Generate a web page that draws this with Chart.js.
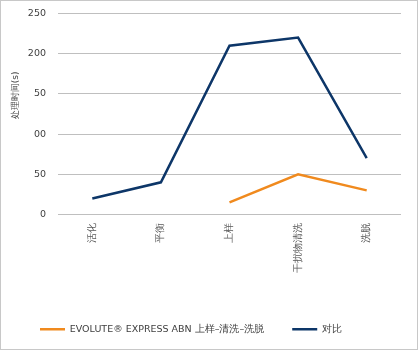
<!DOCTYPE html>
<html lang="zh">
    <head>
        <meta charset="UTF-8">
        <title>处理时间</title>
        <script src="https://cdn.jsdelivr.net/npm/chart.js@4/dist/chart.umd.min.js"></script>
        <style>
            html, body {
                margin: 0;
                padding: 0;
                background: #ffffff;
            }
            .frame {
                position: relative;
                width: 418px;
                height: 350px;
            }
            .frame canvas {
                position: absolute;
                left: 0;
                top: 0;
            }
            .border {
                position: absolute;
                left: 0;
                top: 0;
                width: 416px;
                height: 348px;
                border: 1px solid #c8c8c8;
                pointer-events: none;
            }
        </style>
    </head>
    <body>
        <div class="frame">
            <canvas id="timeChart" width="418" height="350"></canvas>
            <div class="border"></div>
        </div>
        <script>
            // categories along the x axis
            const steps = ["活化", "平衡", "上样", "干扰物清洗", "洗脱"];
            // series values (seconds)
            const evoluteTimes = [null, null, 15, 50, 30];
            const controlTimes = [20, 40, 210, 220, 70];
            // y tick values and the labels as they appear in the picture
            const yTickValues = [0, 50, 100, 150, 200, 250];
            const yTickLabels = ["0", "50", "00", "50", "200", "250"];

            const seriesNames = ["EVOLUTE® EXPRESS ABN 上样–清洗–洗脱", "对比"];
            const seriesColors = ["#f08a1e", "#0d3668"];

            const fontFamily = "'DejaVu Sans', Verdana, sans-serif";

            const ctx = document.getElementById("timeChart").getContext("2d");
            const chart = new Chart(ctx, {
                type: "line",
                data: {
                    labels: steps,
                    datasets: [
                        {
                            label: seriesNames[0],
                            data: evoluteTimes,
                            borderColor: seriesColors[0],
                            backgroundColor: seriesColors[0],
                            borderWidth: 2.5,
                            pointRadius: 0,
                            tension: 0,
                            spanGaps: false
                        },
                        {
                            label: seriesNames[1],
                            data: controlTimes,
                            borderColor: seriesColors[1],
                            backgroundColor: seriesColors[1],
                            borderWidth: 2.5,
                            pointRadius: 0,
                            tension: 0
                        }
                    ]
                },
                options: {
                    responsive: false,
                    animation: false,
                    layout: {
                        padding: { left: 12, right: 17, top: 13.5, bottom: 6 }
                    },
                    plugins: {
                        tooltip: { enabled: false },
                        legend: {
                            position: "bottom",
                            align: "start",
                            labels: {
                                usePointStyle: true,
                                pointStyle: "line",
                                pointStyleWidth: 25,
                                padding: 28,
                                color: "#404040",
                                font: { family: fontFamily, size: 9.5 }
                            }
                        }
                    },
                    scales: {
                        x: {
                            offset: true,
                            grid: { display: false, drawTicks: false },
                            border: { display: false },
                            ticks: {
                                minRotation: 90,
                                maxRotation: 90,
                                padding: 8,
                                color: "#595959",
                                font: { family: fontFamily, size: 9.5 }
                            },
                            afterFit: function (scale) {
                                scale.height = 82;
                            }
                        },
                        y: {
                            min: 0,
                            max: 250,
                            afterBuildTicks: function (scale) {
                                scale.ticks = yTickValues.map(function (v) { return { value: v }; });
                            },
                            grid: {
                                color: "#bfbfbf",
                                lineWidth: 1,
                                drawTicks: true,
                                tickLength: 10,
                                tickColor: "rgba(0,0,0,0)"
                            },
                            border: { display: false },
                            ticks: {
                                padding: 2,
                                color: "#404040",
                                font: { family: fontFamily, size: 9.5 },
                                callback: function (value) {
                                    const i = yTickValues.indexOf(value);
                                    return i >= 0 ? yTickLabels[i] : "";
                                }
                            },
                            title: {
                                display: true,
                                text: "\u00a0\u00a0\u00a0\u00a0\u00a0\u00a0\u00a0\u00a0\u00a0\u00a0\u00a0\u00a0\u00a0处理时间(s)",
                                color: "#404040",
                                padding: { top: -2, bottom: 0 },
                                font: { family: fontFamily, size: 9 }
                            },
                            afterFit: function (scale) {
                                scale.width = 46;
                            }
                        }
                    }
                }
            });
        </script>
    </body>
</html>
